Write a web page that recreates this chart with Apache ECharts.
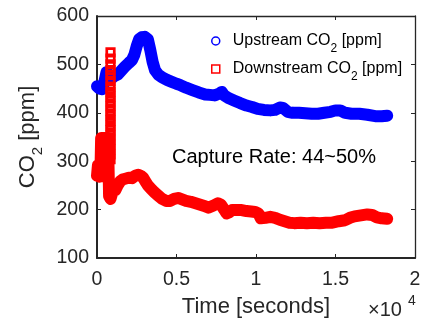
<!DOCTYPE html>
<html>
<head>
<meta charset="utf-8">
<script src="https://cdn.jsdelivr.net/npm/echarts@6/dist/echarts.min.js"></script>
<style>
html,body{margin:0;padding:0;background:#fff;}
#chart{width:422px;height:321px;}
</style>
</head>
<body>
<div id="chart"></div>
<script>
// ---- data (time in seconds, CO2 in ppm) ----
const seriesNames = ['Upstream CO2 [ppm]', 'Downstream CO2 [ppm]'];
const legendPrefixes = ['Upstream', 'Downstream'];
const xTickLabels = ['0', '0.5', '1', '1.5', '2'];
const yTickLabels = ['100', '200', '300', '400', '500', '600'];

const upstreamTime = [0,150,300,450,600,700,800,950,1100,1300,1500,1750,2000,2200,2350,2500,2650,2800,3000,3200,3350,3500,3650,3850,4100,4400,4700,5000,5250,5600,6000,6400,6800,7100,7400,7700,7850,8000,8300,8650,9000,9400,9750,10100,10500,10900,11200,11500,11700,12000,12300,12700,13100,13500,13900,14300,14700,15000,15300,15600,16000,16500,17000,17500,17900,18250];
const upstreamCO2 = [455,450,449,462,484,488,478,472,476,479,486,495,503,509,520,538,552,556,557,552,530,505,488,479,473,468,464,460,457,452,447,442,438,437,436,440,443,436,430,425,420,415,412,408,406,405,406,411,410,402,400,400,399,398,398,400,402,405,405,400,398,398,396,393,393,394];

const downstreamTime = [0,60,130,190,230,260,330,400,470,540,610,680,720,760,850,950,1050,1150,1300,1450,1600,1800,2000,2200,2400,2600,2750,2900,3050,3200,3400,3600,3850,4100,4350,4600,4850,5100,5350,5600,5900,6200,6500,6800,7000,7300,7600,7800,8000,8150,8300,8500,8800,9100,9400,9700,9950,10150,10300,10600,10900,11200,11500,11800,12100,12400,12800,13200,13600,14000,14400,14800,15200,15600,15900,16200,16600,17000,17300,17600,17900,18250];
const downstreamCO2 = [270,292,268,290,300,348,272,348,268,348,270,348,300,228,222,222,245,240,250,258,262,264,266,265,270,272,270,266,258,250,243,236,229,222,218,218,222,224,221,218,216,213,210,207,204,208,213,210,200,192,194,199,199,199,197,196,195,192,182,183,185,183,179,176,173,172,173,172,173,172,173,173,176,178,183,186,188,190,189,184,182,181];

// vertical stack of downstream readings during the start-up sweep
const sweepTime = 850;
const sweepCO2 = [525,512,500,488,478,466,454,444,434,424,414,404,394,384,374,364,354,344,334,324,314,304];

const zip = (a, b) => a.map((v, i) => [v, b[i]]);
const FONT = 'Liberation Sans, Arial, Helvetica, sans-serif';
const AX = '#262626';

const chart = echarts.init(document.getElementById('chart'), null, {renderer: 'canvas'});

const axisBase = {
  splitLine: {show: false},
  axisLine: {show: true, onZero: false, lineStyle: {color: AX, width: 2}},
  axisTick: {show: true, inside: true, length: 4, lineStyle: {color: AX, width: 1}},
};

chart.setOption({
  animation: false,
  backgroundColor: '#fff',
  grid: {left: 97, right: 7, top: 16, bottom: 63, containLabel: false, outerBoundsMode: 'none'},
  legend: {
    orient: 'vertical',
    left: 206,
    top: 22,
    itemWidth: 8,
    itemHeight: 8,
    itemGap: 0,
    selectedMode: false,
    data: [
      {name: seriesNames[0], icon: 'circle',
        itemStyle: {color: '#fff', borderColor: '#0000ff', borderWidth: 1.5},
        lineStyle: {width: 0, opacity: 0}},
      {name: seriesNames[1], icon: 'rect',
        itemStyle: {color: '#fff', borderColor: '#ff0000', borderWidth: 1.5},
        lineStyle: {width: 0, opacity: 0}}
    ],
    formatter: function (name) {
      const i = seriesNames.indexOf(name);
      return '{gap| }' + legendPrefixes[i] + ' CO{sub|2} [ppm]';
    },
    textStyle: {
      fontSize: 16, fontFamily: FONT, color: '#000', lineHeight: 28,
      rich: {
        gap: {width: 8, fontSize: 16, lineHeight: 28},
        sub: {fontSize: 12, fontFamily: FONT, color: '#000', lineHeight: 11, verticalAlign: 'bottom'}
      }
    }
  },
  xAxis: [
    Object.assign({}, axisBase, {
      type: 'value', min: 0, max: 20000, interval: 5000, position: 'bottom',
      axisLabel: {
        margin: 12, fontSize: 19.5, fontFamily: FONT, color: AX,
        formatter: function (v) { return xTickLabels[Math.round(v / 5000)]; }
      },
      name: 'Time [seconds]', nameLocation: 'middle', nameGap: 38,
      nameTextStyle: {fontSize: 22, fontFamily: FONT, color: AX}
    }),
    Object.assign({}, axisBase, {
      type: 'value', min: 0, max: 20000, interval: 5000, position: 'top',
      axisLabel: {show: false},
      axisLine: {show: true, onZero: false, lineStyle: {color: AX, width: 1.3}}
    })
  ],
  yAxis: [
    Object.assign({}, axisBase, {
      type: 'value', min: 100, max: 600, interval: 100, position: 'left',
      axisLabel: {
        margin: 8, fontSize: 19.5, fontFamily: FONT, color: AX,
        formatter: function (v) { return yTickLabels[Math.round((v - 100) / 100)]; }
      },
      name: 'CO{sub|2} [ppm]', nameLocation: 'middle', nameGap: 55,
      nameTextStyle: {
        fontSize: 22, fontFamily: FONT, color: AX, lineHeight: 22,
        rich: {sub: {fontSize: 15, fontFamily: FONT, color: AX, lineHeight: 15, verticalAlign: 'top', padding: [14, 0, 0, 0]}}
      }
    }),
    Object.assign({}, axisBase, {
      type: 'value', min: 100, max: 600, interval: 100, position: 'right',
      axisLabel: {show: false},
      axisLine: {show: true, onZero: false, lineStyle: {color: AX, width: 1.3}}
    })
  ],
  series: [
    {
      name: seriesNames[0], type: 'line', xAxisIndex: 0, yAxisIndex: 0,
      data: zip(upstreamTime, upstreamCO2),
      symbol: 'circle', showSymbol: false, smooth: false,
      lineStyle: {color: '#0000ff', width: 12, cap: 'round', join: 'round'},
      itemStyle: {color: '#0000ff'},
      z: 2
    },
    {
      name: seriesNames[1], type: 'line', xAxisIndex: 0, yAxisIndex: 0,
      data: zip(downstreamTime, downstreamCO2),
      symbol: 'rect', showSymbol: false, smooth: false,
      lineStyle: {color: '#ff0000', width: 12, cap: 'round', join: 'round'},
      itemStyle: {color: '#ff0000'},
      z: 3
    },
    {
      name: 'sweep', type: 'scatter', xAxisIndex: 0, yAxisIndex: 0,
      data: sweepCO2.map(v => [sweepTime, v]),
      symbol: 'rect', symbolSize: 7.5,
      itemStyle: {color: 'rgba(255,255,255,0)', borderColor: '#ff0000', borderWidth: 2.7, opacity: 1},
      z: 4
    }
  ],
  graphic: [
    {type: 'text', left: 172, top: 147, z: 10,
      style: {text: 'Capture Rate: 44~50%', font: '20px ' + FONT, fill: '#000'}},
    {type: 'text', left: 368, top: 300, z: 10,
      style: {text: '\u00d710', font: '20px ' + FONT, fill: AX}},
    {type: 'text', left: 408, top: 294, z: 10,
      style: {text: '4', font: '14px ' + FONT, fill: AX}}
  ]
});
</script>
</body>
</html>
